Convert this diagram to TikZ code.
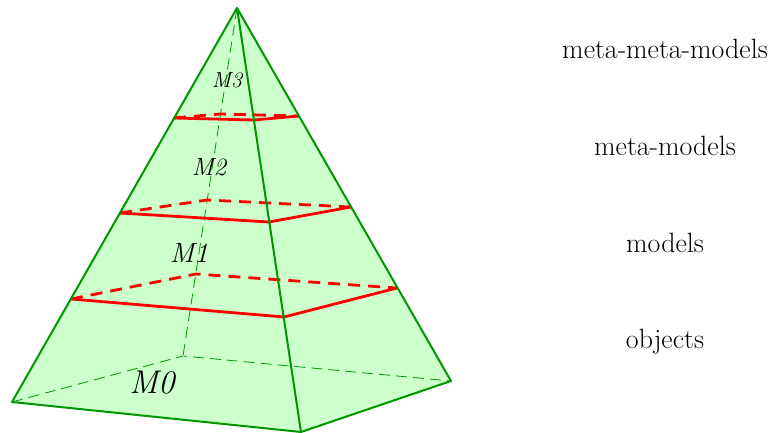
\documentclass[tikz,border=0pt]{standalone}
\usepackage{fontspec}
\definecolor{pyrfill}{RGB}{204,255,204}
\definecolor{pyredge}{RGB}{0,150,0}
\tikzset{
  edgeline/.style={draw=pyredge, line width=2bp, line join=round},
  hiddenline/.style={draw=pyredge, line width=0.8bp, dash pattern=on 11bp off 6bp},
  secfront/.style={draw=red, line width=2.8bp, line join=round},
  secback/.style={draw=red, line width=2.8bp, dash pattern=on 12bp off 8bp},
  levellabel/.style={font=\fontsize{28}{32}\selectfont, anchor=base},
  mlabel/.style={anchor=base, inner sep=0pt}
}
\begin{document}
\begin{tikzpicture}[x=1bp,y=-1bp]
\useasboundingbox (0,0) rectangle (774,433);
% pyramid vertices
\coordinate (A) at (237,8);
\coordinate (FL) at (12,402);
\coordinate (F) at (301,432);
\coordinate (R) at (451,381);
\coordinate (B) at (183,356);
% sections
\coordinate (L1) at (71,299);  \coordinate (F1) at (284,317);
\coordinate (R1) at (397,288); \coordinate (B1) at (196,274);
\coordinate (L2) at (120,213); \coordinate (F2) at (269,222);
\coordinate (R2) at (351,207); \coordinate (B2) at (207,200);
\coordinate (L3) at (174,118); \coordinate (F3) at (254,120);
\coordinate (R3) at (299,116); \coordinate (B3) at (220,114);
% fill
\fill[pyrfill] (FL) -- (A) -- (R) -- (F) -- cycle;
% hidden edges
\draw[hiddenline] (A) -- (B);
\draw[hiddenline] (FL) -- (B) -- (R);
% hidden section parts
\draw[secback] (L1) -- (B1) -- (R1);
\draw[secback] (L2) -- (B2) -- (R2);
\draw[secback] (L3) -- (B3) -- (R3);
% visible section parts
\draw[secfront] (L1) -- (F1) -- (R1);
\draw[secfront] (L2) -- (F2) -- (R2);
\draw[secfront] (L3) -- (F3) -- (R3);
% visible edges
\draw[edgeline] (A) -- (FL) -- (F) -- (R) -- cycle;
\draw[edgeline] (A) -- (F);
% level labels inside
\node[mlabel, font=\itshape\fontsize{22}{24}\selectfont] (m3) at (227,88) {M3};
\node[mlabel, font=\itshape\fontsize{25}{28}\selectfont] (m2) at (209,176) {M2};
\node[mlabel, font=\itshape\fontsize{28}{30}\selectfont] (m1) at (189,263) {M1};
\node[mlabel, font=\itshape\fontsize{33}{36}\selectfont] (m0) at (152,393) {M0};
% right labels
\node[levellabel] (t3) at (665,59) {meta-meta-models};
\node[levellabel] (t2) at (665,156) {meta-models};
\node[levellabel] (t1) at (665,253) {models};
\node[levellabel] (t0) at (665,349) {objects};
\end{tikzpicture}
\end{document}
